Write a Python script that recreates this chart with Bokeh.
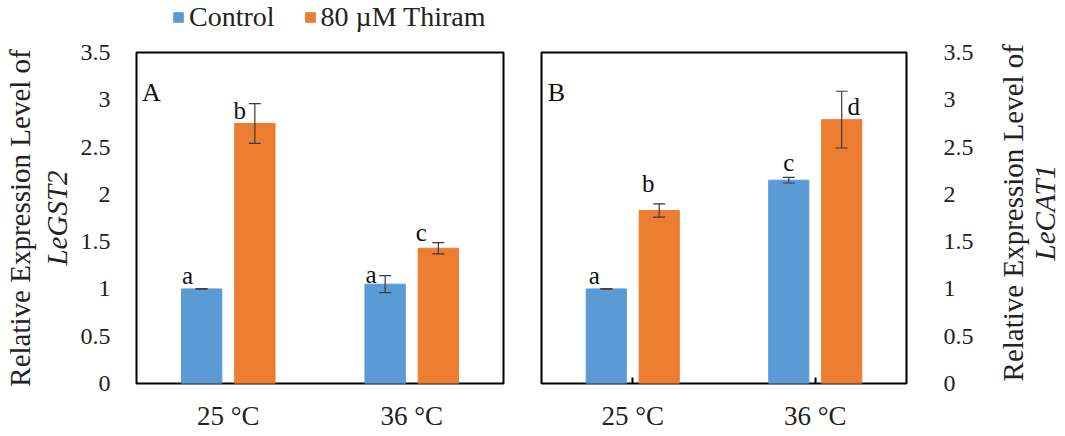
import math
from bokeh.plotting import figure
from bokeh.models import (FactorRange, Range1d, ColumnDataSource, Whisker, TeeHead,
                          Legend, LegendItem, LinearAxis, FixedTicker, Label, Div)
from bokeh.transform import dodge
from bokeh.layouts import row, column
from bokeh.embed import file_html
from bokeh.resources import INLINE
from bokeh.core.properties import value

# ---------------- data ----------------
temps = ["25 °C", "36 °C"]
series = ["Control", "80 µM Thiram"]

gst_control = [1.00, 1.05]
gst_control_err = [0.00, 0.09]
gst_thiram = [2.75, 1.43]
gst_thiram_err = [0.21, 0.06]
gst_control_sig = ["a", "a"]
gst_thiram_sig = ["b", "c"]

cat_control = [1.00, 2.15]
cat_control_err = [0.00, 0.03]
cat_thiram = [1.83, 2.79]
cat_thiram_err = [0.07, 0.30]
cat_control_sig = ["a", "c"]
cat_thiram_sig = ["b", "d"]

y_ticks = [0, 0.5, 1, 1.5, 2, 2.5, 3, 3.5]
y_tick_labels = ["0", "0.5", "1", "1.5", "2", "2.5", "3", "3.5"]

y_title = "Relative Expression Level of"
genes = ["LeGST2", "LeCAT1"]
panel_letters = ["A", "B"]

# ---------------- style ----------------
BLUE = "#5B9BD5"
ORANGE = "#ED7D31"
FONT = "Liberation Serif"
TXT = "#222222"
DODGE = 0.145
BAR_W = 0.22
FRAME_H = 331
TOP_H = 35
H = 436 - TOP_H
RIGHT_W = 74

# screen offsets (px) of the significance letters from the top of each error bar
gst_control_off = [(-14, -13), (-14, -1)]
gst_thiram_off = [(-15, 7), (-17, -10)]
cat_control_off = [(-12, -13), (0, -15)]
cat_thiram_off = [(-11, -20), (12, 15)]


def title_axis(text, side, italic, standoff):
    return LinearAxis(ticker=FixedTicker(ticks=[]), axis_line_color=None,
                      major_tick_line_color=None, minor_tick_line_color=None,
                      major_tick_out=0, major_tick_in=0, minor_tick_out=0, minor_tick_in=0,
                      major_label_standoff=0, major_label_text_font_size="0px",
                      axis_label=text, axis_label_text_font=FONT,
                      axis_label_text_font_size="29px",
                      axis_label_text_font_style="italic" if italic else "normal",
                      axis_label_text_color=TXT,
                      axis_label_standoff=standoff)


def make_panel(control, cerr, thiram, terr, csig, tsig, coff, toff,
               side, letter, fw, mbl, mbr, ticks_in):
    p = figure(x_range=FactorRange(*temps), y_range=Range1d(0, 3.5),
               width=fw + mbl + mbr, height=H,
               min_border_left=mbl, min_border_right=mbr,
               min_border_top=52 - TOP_H, min_border_bottom=53,
               y_axis_location=None, output_backend="svg",
               toolbar_location=None, background_fill_color="white",
               border_fill_color="white")
    p.outline_line_color = "black"
    p.outline_line_width = 2
    p.xgrid.visible = False
    p.ygrid.visible = False

    src = ColumnDataSource(dict(
        temp=temps, control=control, thiram=thiram,
        c_up=[v + e for v, e in zip(control, cerr)],
        c_lo=[v - e for v, e in zip(control, cerr)],
        t_up=[v + e for v, e in zip(thiram, terr)],
        t_lo=[v - e for v, e in zip(thiram, terr)],
        csig=csig, tsig=tsig,
        cxo=[o[0] for o in coff], cyo=[o[1] for o in coff],
        txo=[o[0] for o in toff], tyo=[o[1] for o in toff],
    ))

    p.vbar(x=dodge("temp", -DODGE, range=p.x_range), top="control", width=BAR_W,
           source=src, fill_color=BLUE, line_color=BLUE)
    p.vbar(x=dodge("temp", DODGE, range=p.x_range), top="thiram", width=BAR_W,
           source=src, fill_color=ORANGE, line_color=ORANGE)

    for off, up, lo in ((-DODGE, "c_up", "c_lo"), (DODGE, "t_up", "t_lo")):
        w = Whisker(source=src, base=dodge("temp", off, range=p.x_range),
                    upper=up, lower=lo, line_color="#3a3a3a", line_width=1.2,
                    level="overlay",
                    upper_head=TeeHead(size=12, line_color="#3a3a3a", line_width=1.2),
                    lower_head=TeeHead(size=12, line_color="#3a3a3a", line_width=1.2))
        p.add_layout(w)

    p.text(x=dodge("temp", -DODGE, range=p.x_range), y="c_up", text="csig",
           x_offset="cxo", y_offset="cyo", source=src,
           text_font=value(FONT), text_font_size="25px", text_color="#111111",
           text_align="center", text_baseline="middle")
    p.text(x=dodge("temp", DODGE, range=p.x_range), y="t_up", text="tsig",
           x_offset="txo", y_offset="tyo", source=src,
           text_font=value(FONT), text_font_size="25px", text_color="#111111",
           text_align="center", text_baseline="middle")

    # panel letter
    p.add_layout(Label(x=15, y=FRAME_H - 40, x_units="screen", y_units="screen",
                       text=letter, text_align="center", text_baseline="middle",
                       text_font=FONT, text_font_size="26px", text_color="#111111"))

    # x axis
    xa = p.xaxis[0]
    xa.axis_line_color = None
    xa.major_tick_out = 0
    xa.major_tick_in = 6 if ticks_in else 0
    xa.major_tick_line_color = "black" if ticks_in else None
    xa.major_tick_line_width = 2
    xa.major_label_text_font = FONT
    xa.major_label_text_font_size = "27px"
    xa.major_label_text_color = TXT
    xa.major_label_standoff = 17

    # y axis
    ya = LinearAxis(ticker=FixedTicker(ticks=y_ticks),
                    major_label_overrides={t: l for t, l in zip(y_ticks, y_tick_labels)},
                    axis_line_color=None, major_tick_line_color=None,
                    minor_tick_line_color=None, major_tick_out=0, major_tick_in=0,
                    minor_tick_out=0, minor_tick_in=0,
                    major_label_text_font=FONT, major_label_text_font_size="24px",
                    major_label_text_color=TXT,
                    major_label_standoff=26 if side == "left" else 37)
    p.add_layout(ya, side)
    return p


# legend strip across the top
pTop = figure(width=1065, height=TOP_H, x_range=Range1d(0, 1065), y_range=Range1d(0, TOP_H),
              min_border=0, output_backend="svg", toolbar_location=None,
              outline_line_color=None, background_fill_color="white",
              border_fill_color="white")
pTop.axis.visible = False
pTop.grid.visible = False
proxy = ColumnDataSource(dict(x=[-500], top=[-500]))  # legend proxies, outside the view
lc = pTop.vbar(x="x", top="top", width=1, source=proxy, fill_color=BLUE, line_color=BLUE)
lt = pTop.vbar(x="x", top="top", width=1, source=proxy, fill_color=ORANGE, line_color=ORANGE)
lg = Legend(items=[LegendItem(label=series[0], renderers=[lc]),
                   LegendItem(label=series[1], renderers=[lt])],
            orientation="horizontal", location=(172, 2),
            label_text_font=FONT, label_text_font_size="28px",
            label_text_color=TXT,
            glyph_width=12, glyph_height=12, label_standoff=5,
            spacing=29, padding=0, margin=0,
            border_line_color=None, background_fill_alpha=0)
pTop.add_layout(lg, "center")

pA = make_panel(gst_control, gst_control_err, gst_thiram, gst_thiram_err,
                gst_control_sig, gst_thiram_sig, gst_control_off, gst_thiram_off,
                "left", panel_letters[0], 367, 136, 17, False)
# left two-line y title (axis labels; italic gene name next to the ticks)
pA.add_layout(title_axis(genes[0], "left", True, 5), "left")
pA.add_layout(title_axis(y_title, "left", False, 2), "left")

pB = make_panel(cat_control, cat_control_err, cat_thiram, cat_thiram_err,
                cat_control_sig, cat_thiram_sig, cat_control_off, cat_thiram_off,
                "right", panel_letters[1], 365, 21, 85, True)

# right two-line y title, reading bottom-to-top
right_title = Div(
    width=RIGHT_W, height=H,
    text=(f'<div style="width:{RIGHT_W - 8}px;height:346px;display:flex;'
          'align-items:center;justify-content:center;">'
          f'<div style="writing-mode:vertical-rl;transform:rotate(180deg);'
          f'font-family:\'{FONT}\';font-size:29px;line-height:32px;color:{TXT};'
          'text-align:center;white-space:nowrap;">'
          f'{y_title}<br><i>{genes[1]}</i></div></div>'),
)

layout = column(pTop, row(pA, pB, right_title, spacing=0), spacing=0)
open("out.html", "w").write(file_html(layout, INLINE))
